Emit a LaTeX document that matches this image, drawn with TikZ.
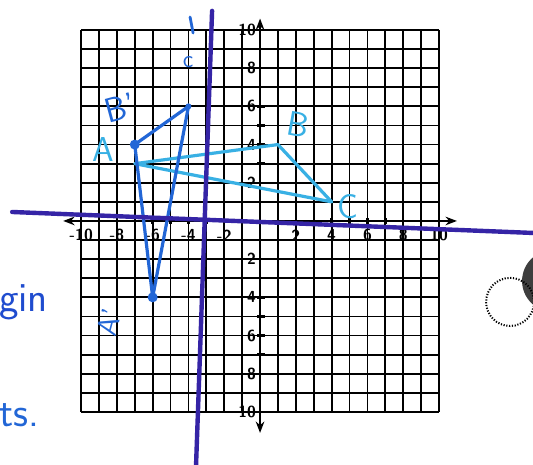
\documentclass[tikz,border=0pt]{standalone}
\usepackage{tikz}
\usepackage{xcolor}
\usetikzlibrary{arrows.meta, positioning}
\definecolor{pencyan}{HTML}{38B0E4}
\definecolor{penblue}{HTML}{2266D6}
\definecolor{penindigo}{HTML}{3524A6}
\definecolor{penink}{HTML}{1F4CCF}
\definecolor{punchgray}{HTML}{3E3E3E}
\tikzset{
  gridln/.style={draw=black, line width=0.9pt},
  axis/.style={{Stealth[length=2mm]}-{Stealth[length=2mm]}, line width=1.2pt, draw=black},
  axtick/.style={draw=black, line width=1.2pt},
  numlbl/.style={font=\sffamily\footnotesize\bfseries, inner sep=1pt},
  origtri/.style={draw=pencyan, line width=1.6pt, line cap=round, line join=round},
  imgtri/.style={draw=penblue, line width=1.6pt, line cap=round, line join=round},
  vtx/.style={circle, fill=penblue, inner sep=0pt, minimum size=5pt},
  hand/.style={font=\sffamily\LARGE, inner sep=0pt},
  marker/.style={draw=penindigo, line width=2.2pt, line cap=round},
  punchring/.style={draw=black, line width=1pt, dash pattern=on 0.6pt off 0.8pt},
}

\begin{document}
\begin{tikzpicture}[x=8.95pt, y=9.55pt]
  \path[fill=white, use as bounding box] (-14.53,-12.77) rectangle (15.25,11.57);
  % grid and axes
  \draw[gridln] (-10,-10) grid[xstep=1, ystep=1] (10,10);
  \draw[axis] (-11,0) -- (11,0);
  \draw[axis] (0,-11.1) -- (0,10.6);
  \foreach \i in {-10,...,10} {
    \draw[axtick] (\i,-0.15) -- (\i,0.15);
    \draw[axtick] (-0.15,\i) -- (0.25,\i);
  }
  \foreach \i in {2,4,...,10} {
    \node (yp\i) [numlbl, anchor=east] at (-0.1,\i) {\i};
    \node (yn\i) [numlbl, anchor=east] at (-0.1,-\i) {\i};
    \node (xp\i) [numlbl] at (\i,-0.75) {\i};
    \node (xn\i) [numlbl] at (-\i,-0.75) {-\i};
  }

  % triangle ABC and its image
  \coordinate (A) at (-7,3);
  \coordinate (B) at (1,4);
  \coordinate (C) at (4,1);
  \draw[origtri] (A) -- (B) -- (C) -- cycle;
  \coordinate (Ai) at (-6,-4);
  \coordinate (Bi) at (-7,4);
  \coordinate (Ci) at (-4,6);
  \draw[imgtri] (Ai) -- (Bi) -- (Ci) -- cycle;
  \node (dotAi) [vtx] at (Ai) {};
  \node (dotBi) [vtx] at (Bi) {};
  \node (dotCi) [vtx, minimum size=3pt] at (Ci) {};

  % marker lines over the axes
  \coordinate (mkL) at (-13.85,0.47);
  \coordinate (mkR) at (15.3,-0.63);
  \draw[marker] (mkL) -- (mkR);
  \coordinate (mkT) at (-2.68,11.0);
  \coordinate (mkB) at (-3.58,-12.9);
  \draw[marker] (mkT) -- (mkB);

  % labels
  \node (lblA) [hand, text=pencyan] at (-8.77,3.72) {A};
  \node (lblB) [hand, text=pencyan, rotate=-10] at (2.12,5.03) {B};
  \node (lblC) [hand, text=pencyan] at (4.92,0.73) {C};
  \node (lblBi) [hand, text=penblue, rotate=15] at (-7.82,5.92) {B'};
  \node (lblAi) [hand, font=\sffamily\Large, text=penblue, rotate=75] at (-8.44,-5.29) {A'};
  \node (lblCi) [hand, font=\sffamily\large, text=penblue] at (-4.02,8.32) {c};
  \draw[penblue, line width=1.4pt, line cap=round] (-3.91,10.68) -- (-3.74,9.84);

  % margin notes
  \node (txtgin) [hand, font=\sffamily\huge, text=penink, anchor=west] at (-14.6,-4.24) {gin};
  \node (txtts) [hand, font=\sffamily\huge, text=penblue, anchor=west] at (-14.6,-10.16) {ts.};

  % hole punch marks
  \fill[punchgray] (16.37,-3.14) ellipse [x radius=1.73, y radius=1.62];
  \draw[punchring] (13.97,-4.24) ellipse [x radius=1.34, y radius=1.26];
\end{tikzpicture}
\end{document}
